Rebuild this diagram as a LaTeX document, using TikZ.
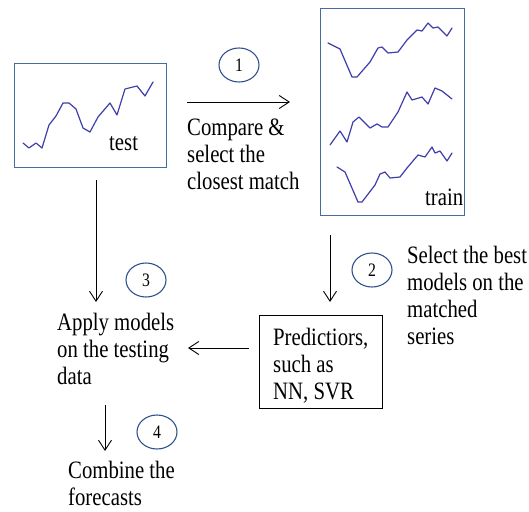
\documentclass[tikz,border=0pt]{standalone}
\usepackage{fontspec}
\setmainfont{Liberation Serif}[FakeStretch=0.83]
\usetikzlibrary{arrows.meta,shapes.geometric}
\definecolor{boxblue}{RGB}{68,108,160}
\definecolor{circblue}{RGB}{47,82,143}
\definecolor{serblue}{RGB}{62,62,172}
\tikzset{
  panel/.style={draw=boxblue, line width=1.4pt, fill=white},
  ser/.style={draw=serblue, line width=1.2pt, line join=round, line cap=round},
  arr/.style={draw=black, line width=0.9pt, -{Straight Barb[length=10pt,width=13pt,line width=0.9pt]}},
  num/.style={ellipse, draw=circblue, line width=1.1pt, minimum width=40pt, minimum height=34pt, inner sep=0pt, font=\fontsize{19}{20}\selectfont},
  lbl/.style={anchor=base west, align=left, inner sep=0pt, font=\fontsize{25}{27}\selectfont},
}
\begin{document}
\begin{tikzpicture}[x=1pt,y=-1pt]
\useasboundingbox (0,0) rectangle (529,511);
% panels
\node[panel, minimum width=152pt, minimum height=104pt, anchor=north west, inner sep=0pt] (test) at (14,63) {};
\node[panel, minimum width=144pt, minimum height=207pt, anchor=north west, inner sep=0pt] (train) at (320,8) {};
% test series
\draw[ser] (23,143)--(29,148)--(36,143)--(42,148)--(49,125)--(56,116)--(63,103)--(69,103)--(76,109)--(83,128)--(90,132)--(98,117)--(110,103)--(117,115)--(125,89)--(137,86)--(145,96)--(153,82);
% train series
\draw[ser] (328,43)--(340,49)--(352,77)--(357,77)--(370,62)--(378,48)--(382,47)--(388,53)--(398,52)--(407,40)--(417,30)--(422,31)--(428,23)--(433,28)--(438,27)--(447,36)--(452,28);
\draw[ser] (330,145)--(340,131)--(347,142)--(353,122)--(359,117)--(370,128)--(377,124)--(382,127)--(388,127)--(398,112)--(407,92)--(412,100)--(422,97)--(428,104)--(435,88)--(442,91)--(452,99);
\draw[ser] (337,167)--(345,172)--(358,202)--(362,202)--(375,185)--(380,174)--(385,172)--(390,178)--(400,177)--(407,168)--(418,155)--(425,157)--(432,147)--(435,153)--(440,151)--(447,161)--(452,153);
\node[lbl] (testlbl) at (109,150) {test};
\node[lbl] (trainlbl) at (425,205) {train};
% predictors box
\node[draw=black, line width=1.2pt, minimum width=123pt, minimum height=93pt, anchor=north west, inner sep=0pt] (pred) at (259,315) {};
\node[lbl] (predtxt) at (273,399) {Predictiors,\\such as\\NN, SVR};
% texts (anchor = baseline of last line)
\node[lbl] (cmp) at (187,189) {Compare \&\\select the\\closest match};
\node[lbl] (sel) at (407,344) {Select the best\\models on the\\matched\\series};
\node[lbl] (apply) at (57,384) {Apply models\\on the testing\\data};
\node[lbl] (comb) at (68,505) {Combine the\\forecasts};
% circles
\node[num] (c1) at (239,65) {1};
\node[num] (c2) at (372,270) {2};
\node[num] (c3) at (146,280) {3};
\node[num] (c4) at (157,432) {4};
% arrows
\coordinate (a1s) at (187,102); \coordinate (a1e) at (290,102);
\coordinate (a2s) at (330,235); \coordinate (a2e) at (330,302);
\coordinate (a3s) at (96,180);  \coordinate (a3e) at (96,302);
\coordinate (a4s) at (105,405); \coordinate (a4e) at (105,451);
\coordinate (a5e) at (188,348);
\draw[arr] (a1s) -- (a1e);
\draw[arr] (a2s) -- (a2e);
\draw[arr] (a3s) -- (a3e);
\draw[arr] (a4s) -- (a4e);
\draw[arr] (pred.west |- a5e) ++(-10,0) -- (a5e);
\end{tikzpicture}
\end{document}
